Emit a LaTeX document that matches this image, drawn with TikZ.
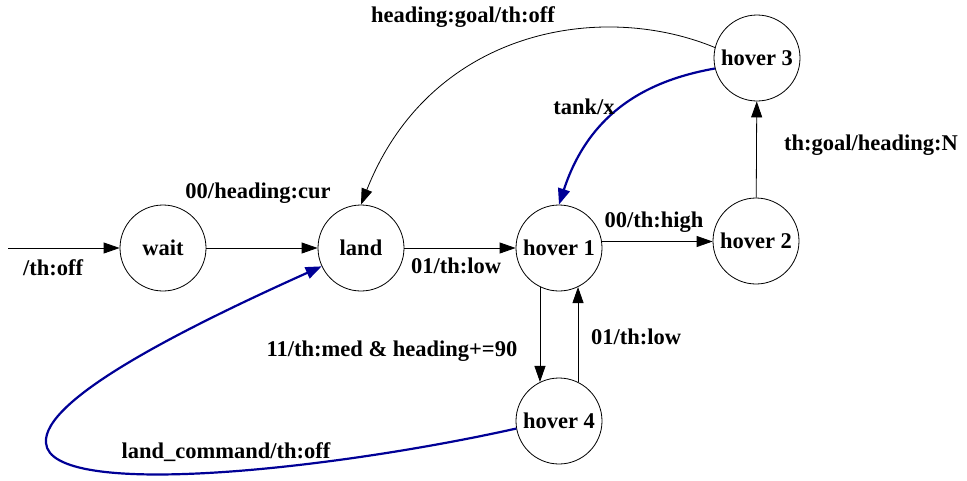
\documentclass[tikz,border=0pt]{standalone}
\usepackage{fontspec}
\setmainfont{Liberation Serif}
\usetikzlibrary{arrows.meta}
\definecolor{navyblue}{RGB}{0,0,150}
\begin{document}
\begin{tikzpicture}[x=1pt,y=-1pt,
  state/.style={circle,draw,line width=0.8pt,minimum size=86pt,inner sep=0pt,font=\fontsize{22.5}{26}\selectfont\bfseries},
  lbl/.style={font=\fontsize{22.5}{26}\selectfont\bfseries,inner sep=0pt},
  tr/.style={draw,line width=0.8pt,-{Triangle[length=16pt,width=11pt]}},
  bluetr/.style={draw=navyblue,line width=2.2pt,-{Triangle[length=16pt,width=12pt]},color=navyblue}]
\useasboundingbox (0,0) rectangle (967,480);
\node[state] (wait) at (163,248) {wait};
\node[state] (land) at (361,248) {land};
\node[state] (h1) at (559,248) {hover 1};
\node[state] (h2) at (756,241) {hover 2};
\node[state] (h3) at (757,58) {hover 3};
\node[state] (h4) at (559,421) {hover 4};
\coordinate (start) at (8,248);
% edges
\draw[tr] (start) -- (wait);
\draw[tr] (wait) -- (land);
\draw[tr] (land) -- (h1);
\draw[tr] (h1.east |- 0,241.5) -- (h2.west |- 0,241.5);
\draw[tr] (h2) -- (h3);
\draw[tr] (h1.-116) -- (h4.116);
\draw[tr] (h4.64) -- (h1.-64);
\draw[tr] (h3.166) .. controls (600,0) and (430,30) .. (land.north);
\draw[bluetr] (h3.194) .. controls (650,80) and (590,110) .. (h1.north);
\draw[bluetr] (h4.190) .. controls (330,470) and (50,500) .. (46,443)
  .. controls (42,400) and (180,330) .. (land.205);
% labels
\node[lbl] (l0) at (53,268) {/th:off};
\node[lbl] (l1) at (258,193) {00/heading:cur};
\node[lbl] (l2) at (463,17) {heading:goal/th:off};
\node[lbl] (l3) at (584,107) {tank/x};
\node[lbl] (l4) at (871,145) {th:goal/heading:N};
\node[lbl] (l5) at (654,222) {00/th:high};
\node[lbl] (l6) at (456,266) {01/th:low};
\node[lbl] (l7) at (392,351) {11/th:med \& heading+=90};
\node[lbl] (l8) at (636,337) {01/th:low};
\node[lbl] (l9) at (226,452) {land\_command/th:off};
\end{tikzpicture}
\end{document}
